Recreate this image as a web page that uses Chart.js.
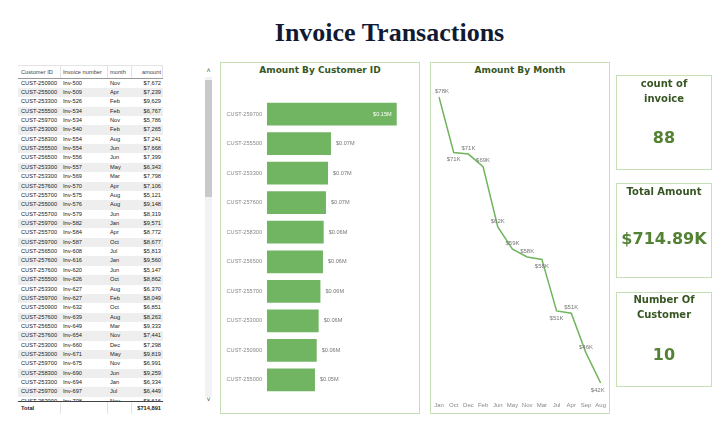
<!DOCTYPE html>
<html>
<head>
<meta charset="utf-8">
<script src="https://cdn.jsdelivr.net/npm/chart.js@4.4.1/dist/chart.umd.min.js"></script>
<style>
  body { margin: 0; width: 720px; height: 422px; background: #fff; position: relative; overflow: hidden; font-family: "Liberation Sans", Arial, sans-serif; }
  .abs { position: absolute; }
  .title { left: 0; width: 779px; top: 18px; line-height: 30px; text-align: center; font: bold 26px "Liberation Serif", "Times New Roman", serif; color: #111a33; }
  .panel { border: 1px solid #c6e0b6; box-sizing: border-box; }
  .ptitle { font: bold 9px "DejaVu Sans", sans-serif; color: #375623; text-align: center; line-height: 12px; }
  .card { border: 1px solid #c6e0b6; box-sizing: border-box; left: 616px; width: 96px; }
  .ctitle { left: 616px; width: 96px; text-align: center; font: bold 10px "DejaVu Sans", sans-serif; color: #375623; line-height: 15px; }
  .cval { left: 606px; width: 116px; text-align: center; font: bold 16px "DejaVu Sans", sans-serif; color: #548235; line-height: 20px; }
  .cell { position: absolute; top: 0; font-size: 5.7px; color: #222; white-space: nowrap; }
  .hcell { color: #444; }
  .row { position: absolute; left: 18px; width: 145px; height: 9.36px; line-height: 9.36px; }
</style>
</head>
<body>

<div class="abs title">Invoice Transactions</div>

<div id="table"></div>
<div class="abs" style="left:205px;top:77px;width:7px;height:320px;background:#f2f2f2"></div>
<div class="abs" style="left:205px;top:80px;width:7px;height:117px;background:#c9c9c9"></div>
<div class="abs" style="left:204px;top:66px;width:9px;text-align:center;font-size:7px;color:#555;line-height:9px">&#x02C4;</div>
<div class="abs" style="left:204px;top:395px;width:9px;text-align:center;font-size:7px;color:#555;line-height:9px">&#x02C5;</div>

<div class="abs panel" style="left:220px;top:62px;width:200px;height:352px"></div>
<div class="abs ptitle" style="left:220px;top:64px;width:200px">Amount By Customer ID</div>
<canvas id="barChart" class="abs" width="198" height="312" style="left:221px;top:91px"></canvas>

<div class="abs panel" style="left:430px;top:62px;width:180px;height:352px"></div>
<div class="abs ptitle" style="left:430px;top:64px;width:180px">Amount By Month</div>
<canvas id="lineChart" class="abs" width="178" height="332" style="left:431px;top:80px"></canvas>

<div class="abs card" style="top:75px;height:95px"></div>
<div class="abs ctitle" style="top:76px">count of<br>invoice</div>
<div class="abs cval" id="kpiCount" style="top:128px"></div>

<div class="abs card" style="top:183px;height:95px"></div>
<div class="abs ctitle" style="top:184px">Total Amount</div>
<div class="abs cval" id="kpiTotal" style="top:229px"></div>

<div class="abs card" style="top:292px;height:95px"></div>
<div class="abs ctitle" style="top:292px">Number Of<br>Customer</div>
<div class="abs cval" id="kpiCust" style="top:345px"></div>

<script>
// customer totals (bar chart)
const customers = ['CUST-259700', 'CUST-255500', 'CUST-253300', 'CUST-257600', 'CUST-258300',
  'CUST-256500', 'CUST-255700', 'CUST-253000', 'CUST-250900', 'CUST-255000'];
const customerTotals = [147400, 72700, 69300, 67000, 64400, 63600, 60700, 58700, 56500, 54500];

// month totals (line chart), in the order the visual sorts them
const months = ['Jan', 'Oct', 'Dec', 'Feb', 'Jun', 'May', 'Nov', 'Mar', 'Jul', 'Apr', 'Sep', 'Aug'];
const monthTotals = [78100, 71100, 70900, 69300, 61700, 58900, 57900, 57600, 51100, 50800, 45800, 42000];

// visible rows of the table
const rowCustomer = ['CUST-250900', 'CUST-255000', 'CUST-253300', 'CUST-255500', 'CUST-259700', 'CUST-253000',
  'CUST-258300', 'CUST-255500', 'CUST-256500', 'CUST-253300', 'CUST-253300', 'CUST-257600', 'CUST-255700',
  'CUST-255000', 'CUST-255700', 'CUST-259700', 'CUST-255700', 'CUST-259700', 'CUST-256500', 'CUST-257600',
  'CUST-257600', 'CUST-255500', 'CUST-253300', 'CUST-259700', 'CUST-250900', 'CUST-257600', 'CUST-256500',
  'CUST-257600', 'CUST-253000', 'CUST-253000', 'CUST-259700', 'CUST-258300', 'CUST-253300', 'CUST-259700',
  'CUST-253000'];
const rowInvoice = ['Inv-500', 'Inv-509', 'Inv-526', 'Inv-534', 'Inv-534', 'Inv-540', 'Inv-554', 'Inv-554',
  'Inv-556', 'Inv-557', 'Inv-569', 'Inv-570', 'Inv-575', 'Inv-576', 'Inv-579', 'Inv-582', 'Inv-584', 'Inv-587',
  'Inv-608', 'Inv-616', 'Inv-620', 'Inv-626', 'Inv-627', 'Inv-627', 'Inv-632', 'Inv-639', 'Inv-649', 'Inv-654',
  'Inv-660', 'Inv-671', 'Inv-675', 'Inv-690', 'Inv-694', 'Inv-697', 'Inv-708'];
const rowMonth = ['Nov', 'Apr', 'Feb', 'Feb', 'Nov', 'Feb', 'Aug', 'Jun', 'Jun', 'May', 'Mar', 'Apr', 'Aug',
  'Aug', 'Jun', 'Jan', 'Apr', 'Oct', 'Jul', 'Jan', 'Jun', 'Oct', 'Aug', 'Feb', 'Oct', 'Aug', 'Mar', 'Nov',
  'Dec', 'May', 'Nov', 'Jun', 'Jan', 'Jul', 'Nov'];
const rowAmount = [7672, 7239, 9629, 6767, 5786, 7265, 7241, 7668, 7399, 6343, 7798, 7106, 5121, 9148, 8319,
  9571, 8772, 8677, 5813, 9560, 5147, 8862, 6370, 8049, 6851, 8263, 9333, 7441, 7298, 9819, 6991, 9259,
  6334, 6449, 8616];

const invoiceCount = 88;
const grandTotal = 714891;

const fmt = n => '$' + n.toLocaleString('en-US');

// ---- table ----
const cols = [[21, 'l'], [63, 'l'], [110, 'l'], [161, 'r']];
function cellsHtml(vals, cls) {
  return vals.map((v, i) => {
    const [x, a] = cols[i];
    return a === 'l'
      ? `<span class="cell ${cls || ''}" style="left:${x - 18}px">${v}</span>`
      : `<span class="cell ${cls || ''}" style="right:${163 - x}px">${v}</span>`;
  }).join('');
}
function dividers(h, n) {
  return [42, 89, 113, 144].slice(0, n).map(x =>
    `<div class="abs" style="left:${x}px;top:0;width:1px;height:${h}px;background:#e2e2e2"></div>`).join('');
}
let html = '';
html += `<div class="abs" style="left:18px;top:65px;width:145px;height:12px;border-top:1px solid #e4e4e4;border-bottom:1px solid #999;line-height:12px;background:#fff">` +
  cellsHtml(['Customer ID', 'Invoice number', 'month', 'amount'], 'hcell') + dividers(12, 4) + `</div>`;
html += `<div class="abs" style="left:0;top:78.6px;width:200px;height:322.4px;overflow:hidden">`;
rowCustomer.forEach((c, i) => {
  const bg = i % 2 ? '#eeeeee' : '#ffffff';
  html += `<div class="row" style="top:${i * 9.36}px;background:${bg}">` +
    cellsHtml([c, rowInvoice[i], rowMonth[i], fmt(rowAmount[i])]) + `</div>`;
});
html += `</div>`;
html += `<div class="abs" style="left:18px;top:401px;width:145px;height:12px;border-top:1.5px solid #444;line-height:12px;background:#fff">` +
  cellsHtml(['<b>Total</b>', '', '', '<b>' + fmt(grandTotal) + '</b>']) + dividers(12, 3) + `</div>`;
document.getElementById('table').innerHTML = html;

// ---- KPI cards ----
document.getElementById('kpiCount').textContent = invoiceCount;
document.getElementById('kpiTotal').textContent = '$' + (grandTotal / 1000).toFixed(2) + 'K';
document.getElementById('kpiCust').textContent = customers.length;

// ---- bar chart ----
const barLabels = {
  id: 'barLabels',
  afterDatasetsDraw(chart) {
    const { ctx, chartArea } = chart;
    ctx.save();
    ctx.font = '5.6px "Liberation Sans"';
    ctx.textBaseline = 'middle';
    chart.getDatasetMeta(0).data.forEach((bar, i) => {
      const txt = '$' + (customerTotals[i] / 1e6).toFixed(2) + 'M';
      const w = ctx.measureText(txt).width;
      if (bar.x + 5 + w > chartArea.right) {
        ctx.fillStyle = '#ffffff';
        ctx.textAlign = 'right';
        ctx.fillText(txt, bar.x - 5, bar.y);
      } else {
        ctx.fillStyle = '#777777';
        ctx.textAlign = 'left';
        ctx.fillText(txt, bar.x + 5, bar.y);
      }
    });
    ctx.restore();
  }
};

new Chart(document.getElementById('barChart'), {
  type: 'bar',
  data: {
    labels: customers,
    datasets: [{ data: customerTotals, backgroundColor: '#71b562', categoryPercentage: 1, barPercentage: 0.77 }]
  },
  options: {
    indexAxis: 'y',
    responsive: false,
    animation: false,
    layout: { padding: 0 },
    plugins: { legend: { display: false }, tooltip: { enabled: false } },
    scales: {
      x: { display: false, min: 0, max: 172700 },
      y: {
        grid: { display: false, drawTicks: false },
        border: { display: false },
        ticks: { color: '#888', font: { family: 'Liberation Sans', size: 5.6 }, padding: 5 },
        afterFit: s => { s.width = 46; }
      }
    }
  },
  plugins: [barLabels]
});

// ---- line chart ----
const belowMonths = ['Oct', 'Mar', 'Jul', 'Aug'];
const lineLabels = {
  id: 'lineLabels',
  afterDatasetsDraw(chart) {
    const { ctx, chartArea } = chart;
    ctx.save();
    ctx.font = '6px "Liberation Sans"';
    ctx.fillStyle = '#777777';
    ctx.textAlign = 'center';
    ctx.textBaseline = 'middle';
    chart.getDatasetMeta(0).data.forEach((pt, i) => {
      const txt = '$' + Math.round(monthTotals[i] / 1000) + 'K';
      const w = ctx.measureText(txt).width;
      let x = pt.x;
      x = Math.max(x, chartArea.left - 4 + w / 2);
      x = Math.min(x, chartArea.right + 4 - w / 2);
      const y = belowMonths.includes(months[i]) ? pt.y + 7 : pt.y - 6;
      ctx.fillText(txt, x, y);
    });
    ctx.restore();
  }
};

new Chart(document.getElementById('lineChart'), {
  type: 'line',
  data: {
    labels: months,
    datasets: [{ data: monthTotals, borderColor: '#70b55e', borderWidth: 1.5, pointRadius: 0, tension: 0 }]
  },
  options: {
    responsive: false,
    animation: false,
    layout: { padding: { top: 2, left: 8, right: 7, bottom: 0 } },
    plugins: { legend: { display: false }, tooltip: { enabled: false } },
    scales: {
      x: {
        grid: { display: false, drawTicks: false },
        border: { display: false },
        ticks: { color: '#888', font: { family: 'Liberation Sans', size: 6 }, padding: 3, maxRotation: 0, autoSkip: false }
      },
      y: { display: false, min: 40000, max: 80000 }
    }
  },
  plugins: [lineLabels]
});
</script>
</body>
</html>
